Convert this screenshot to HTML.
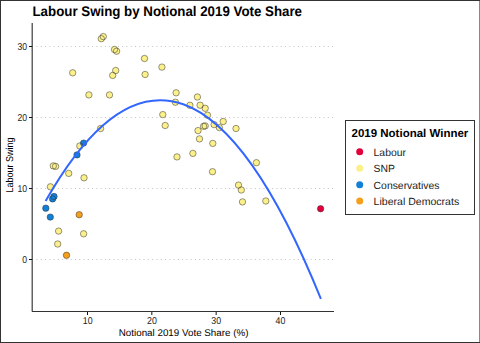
<!DOCTYPE html>
<html><head><meta charset="utf-8"><style>
html,body{margin:0;padding:0;}
body{width:480px;height:343px;overflow:hidden;background:#fff;position:relative;font-family:"Liberation Sans",sans-serif;}
svg{position:absolute;left:0;top:0;}
text{text-rendering:geometricPrecision;}
</style></head><body>
<svg width="480" height="343" viewBox="0 0 480 343" font-family="Liberation Sans, sans-serif">
<rect x="0.5" y="0.5" width="479" height="342" fill="#fff" stroke="#333" stroke-width="1"/>
<line x1="479.5" y1="1" x2="479.5" y2="342" stroke="#888" stroke-width="1"/>
<text transform="translate(32.5,15.6) scale(0.95,1)" font-size="14" font-weight="bold" fill="#000">Labour Swing by Notional 2019 Vote Share</text>
<line x1="32.115" y1="259.5" x2="334" y2="259.5" stroke="#c4c4c4" stroke-width="1" stroke-dasharray="1 3.285"/><line x1="32.115" y1="188.5" x2="334" y2="188.5" stroke="#c4c4c4" stroke-width="1" stroke-dasharray="1 3.285"/><line x1="32.115" y1="117.5" x2="334" y2="117.5" stroke="#c4c4c4" stroke-width="1" stroke-dasharray="1 3.285"/><line x1="32.115" y1="46.5" x2="334" y2="46.5" stroke="#c4c4c4" stroke-width="1" stroke-dasharray="1 3.285"/>
<g stroke="none"><circle cx="101.3" cy="38.7" r="3.2" fill="#FBF08A"/><circle cx="103.3" cy="36.6" r="3.2" fill="#FBF08A"/><circle cx="114.5" cy="49.5" r="3.2" fill="#FBF08A"/><circle cx="116.6" cy="51.2" r="3.2" fill="#FBF08A"/><circle cx="144.5" cy="58.5" r="3.2" fill="#FBF08A"/><circle cx="115.7" cy="70.5" r="3.2" fill="#FBF08A"/><circle cx="112.7" cy="75.4" r="3.2" fill="#FBF08A"/><circle cx="145.1" cy="74.5" r="3.2" fill="#FBF08A"/><circle cx="72.7" cy="72.8" r="3.2" fill="#FBF08A"/><circle cx="161.9" cy="67.1" r="3.2" fill="#FBF08A"/><circle cx="176.1" cy="92.8" r="3.2" fill="#FBF08A"/><circle cx="197.4" cy="97" r="3.2" fill="#FBF08A"/><circle cx="88.9" cy="94.9" r="3.2" fill="#FBF08A"/><circle cx="109.5" cy="94.9" r="3.2" fill="#FBF08A"/><circle cx="100.6" cy="128.5" r="3.2" fill="#FBF08A"/><circle cx="79.8" cy="146.0" r="3.2" fill="#FBF08A"/><circle cx="53.3" cy="165.9" r="3.2" fill="#FBF08A"/><circle cx="55.6" cy="166.4" r="3.2" fill="#FBF08A"/><circle cx="68.7" cy="173.4" r="3.2" fill="#FBF08A"/><circle cx="84" cy="177.8" r="3.2" fill="#FBF08A"/><circle cx="50.4" cy="186.8" r="3.2" fill="#FBF08A"/><circle cx="58.6" cy="231.1" r="3.2" fill="#FBF08A"/><circle cx="83.6" cy="233.8" r="3.2" fill="#FBF08A"/><circle cx="57.7" cy="244" r="3.2" fill="#FBF08A"/><circle cx="175.4" cy="102.2" r="3.2" fill="#FBF08A"/><circle cx="189.9" cy="105.3" r="3.2" fill="#FBF08A"/><circle cx="200.1" cy="105.2" r="3.2" fill="#FBF08A"/><circle cx="205.2" cy="108.3" r="3.2" fill="#FBF08A"/><circle cx="207.5" cy="115.2" r="3.2" fill="#FBF08A"/><circle cx="162.8" cy="114.6" r="3.2" fill="#FBF08A"/><circle cx="165.2" cy="125.5" r="3.2" fill="#FBF08A"/><circle cx="203.6" cy="126.3" r="3.2" fill="#FBF08A"/><circle cx="205.2" cy="125.9" r="3.2" fill="#FBF08A"/><circle cx="198" cy="130.6" r="3.2" fill="#FBF08A"/><circle cx="199.5" cy="138.9" r="3.2" fill="#FBF08A"/><circle cx="223.2" cy="121.5" r="3.2" fill="#FBF08A"/><circle cx="214.1" cy="124.6" r="3.2" fill="#FBF08A"/><circle cx="219.4" cy="127.6" r="3.2" fill="#FBF08A"/><circle cx="236" cy="128.5" r="3.2" fill="#FBF08A"/><circle cx="212.8" cy="143.4" r="3.2" fill="#FBF08A"/><circle cx="192.9" cy="153.4" r="3.2" fill="#FBF08A"/><circle cx="177" cy="156.9" r="3.2" fill="#FBF08A"/><circle cx="212.5" cy="171.7" r="3.2" fill="#FBF08A"/><circle cx="256.4" cy="162.7" r="3.2" fill="#FBF08A"/><circle cx="238.5" cy="185.1" r="3.2" fill="#FBF08A"/><circle cx="241.3" cy="190" r="3.2" fill="#FBF08A"/><circle cx="242.5" cy="201.9" r="3.2" fill="#FBF08A"/><circle cx="265.8" cy="201" r="3.2" fill="#FBF08A"/><circle cx="83.6" cy="143.1" r="3.2" fill="#1280D6"/><circle cx="77" cy="154.9" r="3.2" fill="#1280D6"/><circle cx="54" cy="196.5" r="3.2" fill="#1280D6"/><circle cx="52.6" cy="198.9" r="3.2" fill="#1280D6"/><circle cx="45.8" cy="208.2" r="3.2" fill="#1280D6"/><circle cx="50.3" cy="217.1" r="3.2" fill="#1280D6"/><circle cx="79.2" cy="214.7" r="3.2" fill="#F5A01C"/><circle cx="66.5" cy="255.3" r="3.2" fill="#F5A01C"/><circle cx="320.6" cy="208.7" r="3.2" fill="#E2003C"/></g>
<g fill="none" stroke="#333" stroke-opacity="0.85" stroke-width="0.6"><circle cx="101.3" cy="38.7" r="3.2"/><circle cx="103.3" cy="36.6" r="3.2"/><circle cx="114.5" cy="49.5" r="3.2"/><circle cx="116.6" cy="51.2" r="3.2"/><circle cx="144.5" cy="58.5" r="3.2"/><circle cx="115.7" cy="70.5" r="3.2"/><circle cx="112.7" cy="75.4" r="3.2"/><circle cx="145.1" cy="74.5" r="3.2"/><circle cx="72.7" cy="72.8" r="3.2"/><circle cx="161.9" cy="67.1" r="3.2"/><circle cx="176.1" cy="92.8" r="3.2"/><circle cx="197.4" cy="97" r="3.2"/><circle cx="88.9" cy="94.9" r="3.2"/><circle cx="109.5" cy="94.9" r="3.2"/><circle cx="100.6" cy="128.5" r="3.2"/><circle cx="79.8" cy="146.0" r="3.2"/><circle cx="53.3" cy="165.9" r="3.2"/><circle cx="55.6" cy="166.4" r="3.2"/><circle cx="68.7" cy="173.4" r="3.2"/><circle cx="84" cy="177.8" r="3.2"/><circle cx="50.4" cy="186.8" r="3.2"/><circle cx="58.6" cy="231.1" r="3.2"/><circle cx="83.6" cy="233.8" r="3.2"/><circle cx="57.7" cy="244" r="3.2"/><circle cx="175.4" cy="102.2" r="3.2"/><circle cx="189.9" cy="105.3" r="3.2"/><circle cx="200.1" cy="105.2" r="3.2"/><circle cx="205.2" cy="108.3" r="3.2"/><circle cx="207.5" cy="115.2" r="3.2"/><circle cx="162.8" cy="114.6" r="3.2"/><circle cx="165.2" cy="125.5" r="3.2"/><circle cx="203.6" cy="126.3" r="3.2"/><circle cx="205.2" cy="125.9" r="3.2"/><circle cx="198" cy="130.6" r="3.2"/><circle cx="199.5" cy="138.9" r="3.2"/><circle cx="223.2" cy="121.5" r="3.2"/><circle cx="214.1" cy="124.6" r="3.2"/><circle cx="219.4" cy="127.6" r="3.2"/><circle cx="236" cy="128.5" r="3.2"/><circle cx="212.8" cy="143.4" r="3.2"/><circle cx="192.9" cy="153.4" r="3.2"/><circle cx="177" cy="156.9" r="3.2"/><circle cx="212.5" cy="171.7" r="3.2"/><circle cx="256.4" cy="162.7" r="3.2"/><circle cx="238.5" cy="185.1" r="3.2"/><circle cx="241.3" cy="190" r="3.2"/><circle cx="242.5" cy="201.9" r="3.2"/><circle cx="265.8" cy="201" r="3.2"/><circle cx="83.6" cy="143.1" r="3.2"/><circle cx="77" cy="154.9" r="3.2"/><circle cx="54" cy="196.5" r="3.2"/><circle cx="52.6" cy="198.9" r="3.2"/><circle cx="45.8" cy="208.2" r="3.2"/><circle cx="50.3" cy="217.1" r="3.2"/><circle cx="79.2" cy="214.7" r="3.2"/><circle cx="66.5" cy="255.3" r="3.2"/><circle cx="320.6" cy="208.7" r="3.2"/></g>
<path d="M 45.6 200.98 Q 183.25 -41.45 320.9 298.98" fill="none" stroke="#3366FF" stroke-width="2"/>
<line x1="32.2" y1="23" x2="32.2" y2="311.5" stroke="#3a3a3a" stroke-width="1.2"/>
<line x1="32" y1="311.5" x2="334" y2="311.5" stroke="#333" stroke-width="1"/>
<g stroke="#111" stroke-width="1">
<line x1="29" y1="46.5" x2="32" y2="46.5"/><line x1="29" y1="117.5" x2="32" y2="117.5"/><line x1="29" y1="188.5" x2="32" y2="188.5"/><line x1="29" y1="259.5" x2="32" y2="259.5"/>
<line x1="87.5" y1="312" x2="87.5" y2="315"/><line x1="151.83" y1="312" x2="151.83" y2="315"/><line x1="216.17" y1="312" x2="216.17" y2="315"/><line x1="280.5" y1="312" x2="280.5" y2="315"/>
</g>
<g font-size="10" fill="#222" text-anchor="end">
<text transform="translate(27,49.8) scale(0.86,1)">30</text><text transform="translate(27,120.8) scale(0.86,1)">20</text><text transform="translate(27,191.8) scale(0.86,1)">10</text><text transform="translate(27,262.8) scale(0.86,1)">0</text>
</g>
<g font-size="10" fill="#222" text-anchor="middle">
<text transform="translate(87.7,324.2) scale(0.88,1)">10</text><text transform="translate(151.9,324.2) scale(0.88,1)">20</text><text transform="translate(216.2,324.2) scale(0.88,1)">30</text><text transform="translate(280.4,324.2) scale(0.88,1)">40</text>
</g>
<text x="183.6" y="336" font-size="9.8" fill="#000" text-anchor="middle">Notional 2019 Vote Share (%)</text>
<text transform="translate(13.45,165) rotate(-90) scale(0.9,1)" font-size="10" fill="#000" text-anchor="middle">Labour Swing</text>
<rect x="345.5" y="120.5" width="129" height="94" fill="#fff" stroke="#333" stroke-width="1"/>
<text x="351.5" y="136.5" font-size="11.5" font-weight="bold" fill="#000">2019 Notional Winner</text>
<g stroke="none">
<circle cx="359.7" cy="151.7" r="3.5" fill="#E2003C"/>
<circle cx="359.7" cy="168.2" r="3.5" fill="#FBF08A"/>
<circle cx="359.7" cy="184.7" r="3.5" fill="#1280D6"/>
<circle cx="359.7" cy="201.0" r="3.5" fill="#F5A01C"/>
</g>
<g font-size="10.4" fill="#222">
<text x="373.6" y="155.5">Labour</text><text x="373.6" y="172">SNP</text><text x="373.6" y="188.5">Conservatives</text><text transform="translate(373.6,205.1) scale(1.015,1)">Liberal Democrats</text>
</g>
</svg>
</body></html>
